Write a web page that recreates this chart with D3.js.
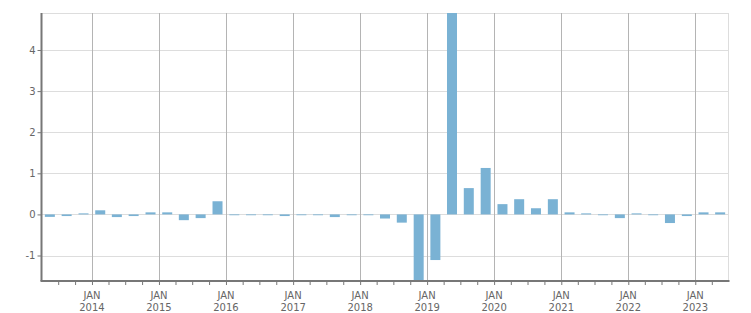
<!DOCTYPE html>
<html>
<head>
<meta charset="utf-8">
<script src="https://cdn.jsdelivr.net/npm/d3@7"></script>
<style>
  body { margin: 0; background: #fff; }
  text { font-family: "DejaVu Sans", Verdana, sans-serif; font-size: 10px; fill: #666; }
</style>
</head>
<body>
<script>
"use strict";
// quarterly values, Q2 2013 .. Q2 2023
var quarters = [];
for (var yr = 2013; yr <= 2023; yr++) {
  for (var q = 0; q < 4; q++) {
    if (yr === 2013 && q === 0) continue;
    if (yr === 2023 && q > 1) continue;
    quarters.push(new Date(yr, q * 3, 1));
  }
}
var values = [
  -0.06, -0.04, 0.025,
  0.1, -0.065, -0.04, 0.05,
  0.05, -0.14, -0.09, 0.32,
  -0.02, -0.02, -0.02, -0.04,
  -0.02, -0.02, -0.065, -0.02,
  -0.02, -0.1, -0.2, -1.7,
  -1.11, 4.95, 0.64, 1.13,
  0.25, 0.37, 0.15, 0.37,
  0.05, 0.025, -0.02, -0.09,
  0.025, -0.02, -0.21, -0.04,
  0.05, 0.05
];
var yTicks = [-1, 0, 1, 2, 3, 4];
var years = [2014, 2015, 2016, 2017, 2018, 2019, 2020, 2021, 2022, 2023];

var width = 751, height = 313;
var plotL = 41.5, plotR = 728.5, plotT = 13, plotB = 281;

var svg = d3.select("body").append("svg")
  .attr("width", width)
  .attr("height", height);

var x = d3.scaleTime()
  .domain([new Date(2013, 3, 1), new Date(2023, 6, 1)])
  .range([plotL, plotR]);
var y = d3.scaleLinear()
  .domain([-1.62, 4.9])
  .range([plotB, plotT]);

svg.append("defs").append("clipPath").attr("id", "plot")
  .append("rect").attr("x", plotL).attr("y", plotT)
  .attr("width", plotR - plotL).attr("height", plotB - plotT);

// horizontal grid
svg.append("g").selectAll("line").data(yTicks.concat([4.9])).enter()
  .append("line")
  .attr("x1", plotL).attr("x2", plotR)
  .attr("y1", function(d) { return Math.round(y(d)) + 0.5; })
  .attr("y2", function(d) { return Math.round(y(d)) + 0.5; })
  .attr("stroke", "#dddddd");

// right border
svg.append("line")
  .attr("x1", plotR).attr("x2", plotR).attr("y1", plotT).attr("y2", plotB)
  .attr("stroke", "#dddddd");

// vertical grid at each january
svg.append("g").selectAll("line").data(years).enter()
  .append("line")
  .attr("x1", function(d) { return Math.round(x(new Date(d, 0, 1))) + 0.5; })
  .attr("x2", function(d) { return Math.round(x(new Date(d, 0, 1))) + 0.5; })
  .attr("y1", plotT).attr("y2", plotB)
  .attr("stroke", "#b4b4b4");

// bars
var barW = 10;
svg.append("g").attr("clip-path", "url(#plot)")
  .selectAll("rect").data(values).enter()
  .append("rect")
  .attr("x", function(d, i) {
    var s = quarters[i];
    var e = d3.timeMonth.offset(s, 3);
    return (x(s) + x(e)) / 2 - barW / 2;
  })
  .attr("width", barW)
  .attr("y", function(d) { return y(Math.max(0, d)); })
  .attr("height", function(d) { return Math.abs(y(d) - y(0)); })
  .attr("fill", "#7ab2d4");

// x axis with quarterly ticks
var xAxis = d3.axisBottom(x)
  .tickValues(d3.timeMonth.every(3).range(new Date(2013, 6, 1), new Date(2023, 6, 1)))
  .tickSize(4)
  .tickFormat("");
var gx = svg.append("g").attr("transform", "translate(0," + plotB + ")").call(xAxis);
gx.select(".domain").remove();
gx.selectAll("line").attr("stroke", "#777");
svg.append("line")
  .attr("x1", plotL - 1).attr("x2", plotR + 1).attr("y1", plotB).attr("y2", plotB)
  .attr("stroke", "#777").attr("stroke-width", 2);

var labels = svg.append("g").selectAll("g").data(years).enter()
  .append("g")
  .attr("transform", function(d) { return "translate(" + x(new Date(d, 0, 1)) + ",0)"; });
labels.append("text").attr("y", 299).attr("text-anchor", "middle").text("JAN");
labels.append("text").attr("y", 311).attr("text-anchor", "middle").text(function(d) { return d; });

// y axis
var yAxis = d3.axisLeft(y).tickValues(yTicks).tickSize(4).tickPadding(2)
  .tickFormat(function(d) { return String(d); });
var gy = svg.append("g").attr("transform", "translate(" + plotL + ",0)").call(yAxis);
gy.select(".domain").remove();
gy.selectAll("line").attr("stroke", "#777");
gy.selectAll("text").style("font-family", "DejaVu Sans").style("font-size", "10px").attr("fill", "#666");
svg.append("line")
  .attr("x1", plotL).attr("x2", plotL).attr("y1", plotT).attr("y2", plotB)
  .attr("stroke", "#777").attr("stroke-width", 2);
</script>
</body>
</html>
